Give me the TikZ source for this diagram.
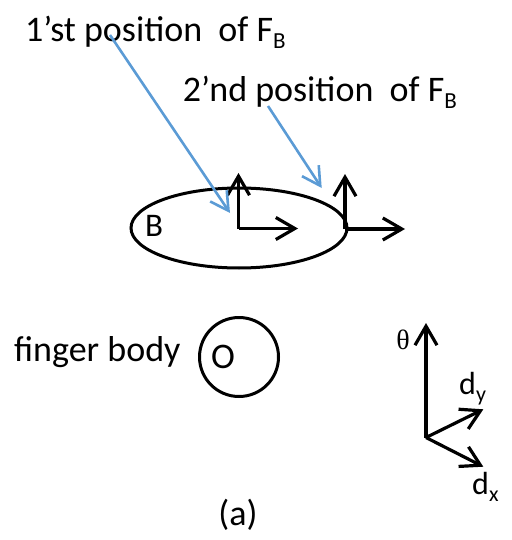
\documentclass[tikz,border=0pt]{standalone}
\usepackage{fontspec}
\setmainfont{Carlito}
\newfontfamily\greekserif{Liberation Serif}
\usetikzlibrary{arrows.meta,shapes.geometric}
\definecolor{fblue}{HTML}{5B9BD5}
\begin{document}
\begin{tikzpicture}[x=1pt,y=-1pt,
  lbl/.style={inner sep=0pt, anchor=base west, font=\fontsize{36}{40}\selectfont},
  blk/.style={line width=3.2pt, -{Straight Barb[length=19pt,width=22pt]}},
  blu/.style={draw=fblue, line width=2.6pt, -{Straight Barb[length=18pt,width=20pt]}},
  shapeline/.style={draw, line width=3pt, inner sep=0pt}]
\useasboundingbox (0,0) rectangle (511,540);
% header labels
\node[lbl] (t1) at (25,41.7) {1’st position\ \ of F\raisebox{-6.6pt}{\fontsize{23}{23}\selectfont B}};
\node[lbl] (t2) at (182.7,102) {2’nd position\ \ of F\raisebox{-6.6pt}{\fontsize{23}{23}\selectfont B}};
% body B
\node[shapeline, ellipse, minimum width=216pt, minimum height=80pt] (B) at (239,228) {};
\node[lbl, font=\fontsize{33}{33}\selectfont] (Blbl) at (145,236) {B};
% frame 1
\coordinate (o1) at (238.5,228.5);
\coordinate (o1y) at (238.5,173);
\coordinate (o1x) at (298,228.5);
\draw[blk] (o1) -- (o1y);
\draw[blk] (o1) -- (o1x);
% frame 2
\coordinate (o2) at (345,229);
\coordinate (o2y) at (345,174);
\coordinate (o2x) at (405,229);
\draw[blk] (o2) -- (o2y);
\draw[blk] (o2) -- (o2x);
% blue arrows
\coordinate (b1s) at (110,35);
\coordinate (b1e) at (230,213);
\coordinate (b2s) at (268,106);
\coordinate (b2e) at (321.7,188);
\draw[blu] (b1s) -- (b1e);
\draw[blu] (b2s) -- (b2e);
% finger body
\node[lbl] (fb) at (14,361) {finger body};
\node[shapeline, circle, minimum size=79pt] (O) at (239,357) {};
\node[lbl] (Olbl) at (211,368) {O};
% axes
\coordinate (ax) at (426,437.5);
\coordinate (axt) at (426,323);
\coordinate (axy) at (483.3,409.3);
\coordinate (axx) at (483.3,466.7);
\draw[blk] (ax) -- (axt);
\draw[blk] (ax) -- (axy);
\draw[blk] (ax) -- (axx);
\node[inner sep=0pt, font=\greekserif\fontsize{28}{28}\selectfont] (th) at (403,340) {θ};
\node[lbl, font=\fontsize{32}{32}\selectfont] (dy) at (459,394) {d\raisebox{-7pt}{\fontsize{22}{22}\selectfont y}};
\node[lbl, font=\fontsize{32}{32}\selectfont] (dx) at (472,494) {d\raisebox{-7pt}{\fontsize{22}{22}\selectfont x}};
% caption
\node[lbl, anchor=base] (cap) at (238,525) {(a)};
\end{tikzpicture}
\end{document}
